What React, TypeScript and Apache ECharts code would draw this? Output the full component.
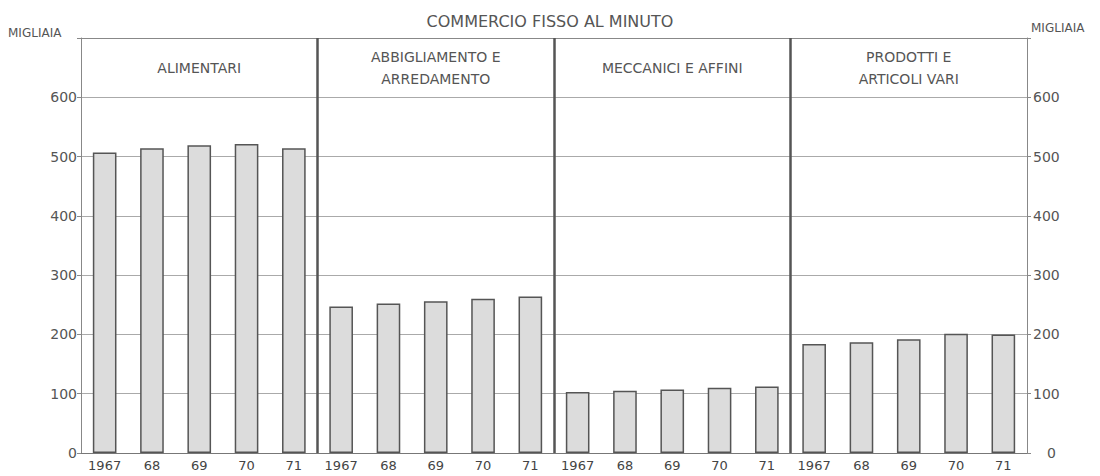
import React, { useEffect, useRef } from 'react';
import * as echarts from 'echarts';

const chartTitle = 'COMMERCIO FISSO AL MINUTO';
const unitLabel = 'MIGLIAIA';
const sectors = ['ALIMENTARI', 'ABBIGLIAMENTO E\nARREDAMENTO', 'MECCANICI E AFFINI', 'PRODOTTI E\nARTICOLI VARI'];
const years = ['1967', '68', '69', '70', '71'];
const alimentari = [507, 514, 519, 521, 514];
const abbigliamento = [247, 252, 256, 260, 264];
const meccanici = [103, 105, 107, 110, 112];
const prodotti = [184, 187, 192, 201, 200];
const yMin = 0;
const yMax = 700;
const yStep = 100;

const FONT = 'DejaVu Sans';

export default function App() {
  const ref = useRef<HTMLDivElement>(null);

  useEffect(() => {
    if (!ref.current) return;
    const chart = echarts.init(ref.current, undefined, { renderer: 'svg' });
    const categories = [...years, ...years, ...years, ...years];
    const values = [...alimentari, ...abbigliamento, ...meccanici, ...prodotti];
    const perPanel = years.length;
    const nCat = categories.length;
    // panel boundaries between categories (index space of the category axis)
    const boundaries: number[] = [];
    for (let p = 1; p < sectors.length; p++) boundaries.push(p * perPanel - 0.5);

    chart.setOption({
      animation: false,
      backgroundColor: '#ffffff',
      title: {
        text: chartTitle,
        left: 'center',
        top: 8,
        textStyle: { fontSize: 16, fontWeight: 'normal', color: '#555', fontFamily: FONT },
      },
      graphic: [
        { type: 'text', left: 8, top: 27, style: { text: unitLabel, fontSize: 12, fill: '#555', fontFamily: FONT } },
        { type: 'text', left: 1031, top: 22, style: { text: unitLabel, fontSize: 12, fill: '#555', fontFamily: FONT } },
      ],
      grid: { left: 81, right: 73, top: 38, bottom: 23, containLabel: false },
      xAxis: [
        {
          type: 'category',
          data: categories,
          position: 'bottom',
          boundaryGap: true,
          axisLine: { show: true, onZero: false, lineStyle: { color: '#777', width: 1 } },
          axisTick: { show: false },
          axisLabel: { color: '#444', fontSize: 13, margin: 6, interval: 0, fontFamily: FONT },
          splitLine: { show: false },
        },
        {
          type: 'category',
          data: sectors,
          position: 'top',
          axisLine: { show: true, onZero: false, lineStyle: { color: '#888', width: 1 } },
          axisTick: { show: false },
          axisLabel: {
            inside: true,
            margin: 30,
            verticalAlign: 'middle',
            lineHeight: 22,
            fontSize: 14,
            color: '#555',
            interval: 0,
            fontFamily: FONT,
          },
          splitLine: { show: false },
        },
        {
          type: 'value',
          min: -0.5,
          max: nCat - 0.5,
          show: false,
          position: 'bottom',
          axisLine: { onZero: false },
          splitLine: { show: false },
        },
      ],
      yAxis: [
        {
          type: 'value',
          min: yMin,
          max: yMax,
          interval: yStep,
          position: 'left',
          axisLine: { show: true, onZero: false, lineStyle: { color: '#888' } },
          axisTick: { show: true, length: 4, lineStyle: { color: '#888' } },
          axisLabel: {
            color: '#555',
            fontSize: 14,
            margin: 4,
            fontFamily: FONT,
            formatter: (v: number) => (v === yMax ? '' : String(v)),
          },
          splitLine: { show: true, lineStyle: { color: '#aaa', width: 1 } },
        },
        {
          type: 'value',
          min: yMin,
          max: yMax,
          interval: yStep,
          position: 'right',
          axisLine: { show: true, onZero: false, lineStyle: { color: '#888' } },
          axisTick: { show: true, length: 4, lineStyle: { color: '#888' } },
          axisLabel: {
            color: '#555',
            fontSize: 14,
            margin: 6,
            fontFamily: FONT,
            formatter: (v: number) => (v === yMax ? '' : v === yMin ? '{z|' + v + '}' : String(v)),
            rich: { z: { fontSize: 14, color: '#555', fontFamily: FONT, padding: [0, 0, 0, 14] } },
          },
          splitLine: { show: false },
        },
      ],
      series: [
        {
          type: 'bar',
          xAxisIndex: 0,
          yAxisIndex: 0,
          data: values,
          barWidth: '50%',
          itemStyle: { color: '#dcdcdc', borderColor: '#555', borderWidth: 1.5 },
        },
        {
          type: 'line',
          xAxisIndex: 2,
          yAxisIndex: 0,
          data: [],
          silent: true,
          markLine: {
            silent: true,
            symbol: 'none',
            label: { show: false },
            lineStyle: { color: '#555', width: 2.5, type: 'solid' },
            data: boundaries.map((b) => ({ xAxis: b })),
          },
        },
      ],
    });

    return () => chart.dispose();
  }, []);

  return <div ref={ref} style={{ position: 'fixed', left: 0, top: 0, width: 1100, height: 476 }} />;
}
